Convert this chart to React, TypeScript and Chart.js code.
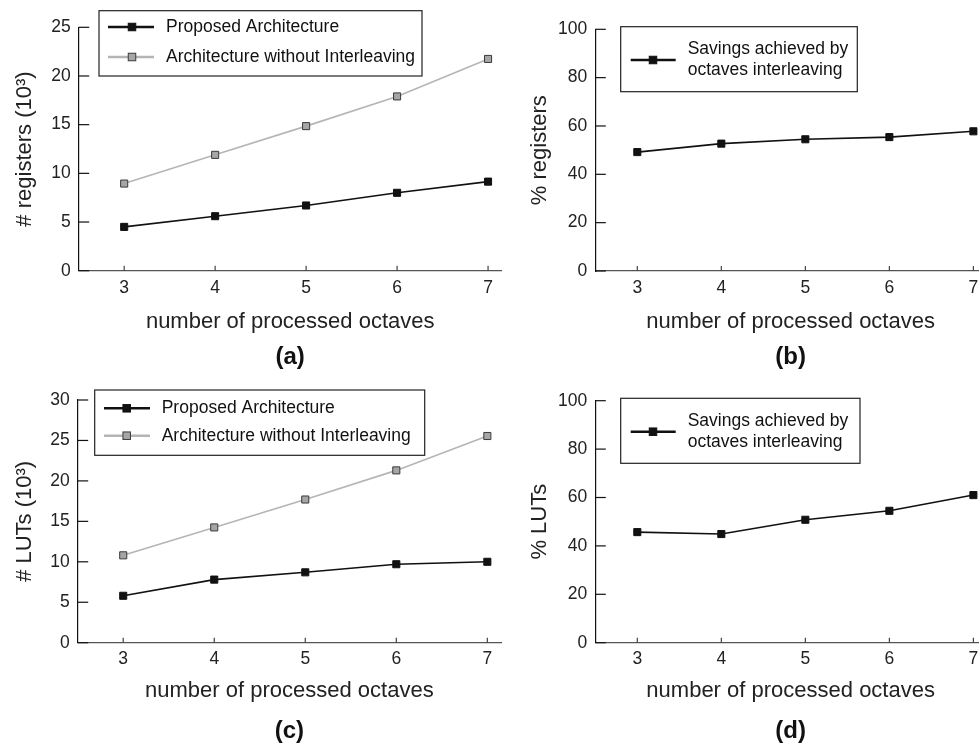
import React, { useEffect, useRef } from "react";
import { Chart, registerables } from "chart.js";

Chart.register(...registerables);

// ---------- data ----------
const octaves = [3, 4, 5, 6, 7];
const regProposed = [4.5, 5.6, 6.7, 8.0, 9.15];
const regNoInterleave = [8.95, 11.9, 14.85, 17.9, 21.75];
const regSavings = [49.2, 52.7, 54.5, 55.4, 57.8];
const lutProposed = [5.8, 7.8, 8.7, 9.7, 10.0];
const lutNoInterleave = [10.8, 14.25, 17.7, 21.3, 25.55];
const lutSavings = [45.7, 44.9, 50.8, 54.5, 61.0];

const xTitle = "number of processed octaves";
const seriesNames = ["Proposed Architecture", "Architecture without Interleaving"];
const savingsName = ["Savings achieved by", "octaves interleaving"];
const panelLabels = ["(a)", "(b)", "(c)", "(d)"];
const yTitles = ["# registers (10\u00B3)", "% registers", "# LUTs (10\u00B3)", "% LUTs"];

const FONT = '"Liberation Sans", Arial, Helvetica, sans-serif';

const toPoints = (ys: number[]) => octaves.map((x, i) => ({ x, y: ys[i] }));

const blackStyle = {
  borderColor: "#111",
  backgroundColor: "#111",
  borderWidth: 1.6,
  pointStyle: "rect",
  pointRadius: 5,
  pointBackgroundColor: "#111",
  pointBorderColor: "#111",
  pointBorderWidth: 1,
};
const grayStyle = {
  borderColor: "#b5b5b5",
  backgroundColor: "#a6a6a6",
  borderWidth: 1.6,
  pointStyle: "rect",
  pointRadius: 5,
  pointBackgroundColor: "#a6a6a6",
  pointBorderColor: "#3a3a3a",
  pointBorderWidth: 1,
};

// ---------- plugins ----------
const inwardTicks = {
  id: "inwardTicks",
  beforeDatasetsDraw(chart: any) {
    const { ctx, chartArea, scales } = chart;
    const xs = scales.x;
    const ys = scales.y;
    ctx.save();
    ctx.lineWidth = 1.2;
    ctx.strokeStyle = "#111";
    ys.ticks.forEach((t: any) => {
      const py = ys.getPixelForValue(t.value);
      ctx.beginPath();
      ctx.moveTo(chartArea.left, py);
      ctx.lineTo(chartArea.left + 10.5, py);
      ctx.stroke();
    });
    ctx.strokeStyle = "#444";
    xs.ticks.forEach((t: any) => {
      const px = xs.getPixelForValue(t.value);
      ctx.beginPath();
      ctx.moveTo(px, chartArea.bottom);
      ctx.lineTo(px, chartArea.bottom - 5);
      ctx.stroke();
    });
    ctx.restore();
  },
};

const boxLegend = {
  id: "boxLegend",
  afterDraw(chart: any, _args: any, opts: any) {
    if (!opts || !opts.rows) return;
    const { ctx, chartArea } = chart;
    const bx = chartArea.left + opts.dx;
    const by = chartArea.top + opts.dy;
    ctx.save();
    ctx.fillStyle = "#fff";
    ctx.fillRect(bx, by, opts.w, opts.h);
    ctx.strokeStyle = "#222";
    ctx.lineWidth = 1.2;
    ctx.strokeRect(bx, by, opts.w, opts.h);
    opts.rows.forEach((row: any) => {
      const ds = chart.data.datasets[row.ds];
      const ry = by + row.y;
      ctx.strokeStyle = ds.borderColor;
      ctx.lineWidth = ds.borderWidth + 0.9;
      ctx.beginPath();
      ctx.moveTo(bx + opts.sx0, ry);
      ctx.lineTo(bx + opts.sx1, ry);
      ctx.stroke();
      const s = 7.5;
      ctx.fillStyle = ds.pointBackgroundColor;
      ctx.fillRect(bx + opts.mx - s / 2, ry - s / 2, s, s);
      ctx.strokeStyle = ds.pointBorderColor;
      ctx.lineWidth = 1;
      ctx.strokeRect(bx + opts.mx - s / 2, ry - s / 2, s, s);
      ctx.fillStyle = "#111";
      ctx.font = `17.5px ${FONT}`;
      ctx.textAlign = "left";
      ctx.textBaseline = "middle";
      const n = row.text.length;
      row.text.forEach((t: string, i: number) => {
        ctx.fillText(t, bx + opts.tx, ry + (i - (n - 1) / 2) * (opts.gap || 0));
      });
    });
    ctx.restore();
  },
};

// ---------- panels ----------
type Panel = {
  left: number;
  top: number;
  width: number;
  height: number;
  padTop: number;
  padRight: number;
  yWidth: number;
  xHeight: number;
  yMax: number;
  yStep: number;
  yTitle: string;
  label: string;
  titlePadBottom: number;
  xTitlePadBottom: number;
  tickPad: number;
  yTitlePad: number;
  datasets: any[];
  legend: any;
};

const panels: Panel[] = [
  {
    left: 0, top: 0, width: 510, height: 378,
    padTop: 27.3, padRight: 8.3, yWidth: 78.7, xHeight: 71.9,
    yMax: 25, yStep: 5, yTitle: yTitles[0], label: panelLabels[0],
    titlePadBottom: 6.6, xTitlePadBottom: 7.4, tickPad: 6.8, yTitlePad: 11.8,
    datasets: [
      { label: seriesNames[0], data: toPoints(regProposed), ...blackStyle },
      { label: seriesNames[1], data: toPoints(regNoInterleave), ...grayStyle },
    ],
    legend: {
      dx: 20.3, dy: -16.6, w: 323, h: 65.3, sx0: 9, sx1: 55, mx: 33, tx: 67, gap: 0,
      rows: [
        { ds: 0, y: 16.3, text: [seriesNames[0]] },
        { ds: 1, y: 46.3, text: [seriesNames[1]] },
      ],
    },
  },
  {
    left: 500, top: 0, width: 500, height: 378,
    padTop: 29.3, padRight: 14, yWidth: 95.3, xHeight: 71.6,
    yMax: 100, yStep: 20, yTitle: yTitles[1], label: panelLabels[1],
    titlePadBottom: 6.6, xTitlePadBottom: 7.4, tickPad: 6.8, yTitlePad: 26.8,
    datasets: [{ label: savingsName.join(" "), data: toPoints(regSavings), ...blackStyle }],
    legend: {
      dx: 25.4, dy: -2.6, w: 236.6, h: 65, sx0: 10, sx1: 55, mx: 32.3, tx: 67, gap: 20.7,
      rows: [{ ds: 0, y: 33.3, text: savingsName }],
    },
  },
  {
    left: 0, top: 380, width: 510, height: 366,
    padTop: 20, padRight: 9, yWidth: 77.7, xHeight: 74.5,
    yMax: 30, yStep: 5, yTitle: yTitles[2], label: panelLabels[2],
    titlePadBottom: 0, xTitlePadBottom: 13, tickPad: 5.8, yTitlePad: 11.8,
    datasets: [
      { label: seriesNames[0], data: toPoints(lutProposed), ...blackStyle },
      { label: seriesNames[1], data: toPoints(lutNoInterleave), ...grayStyle },
    ],
    legend: {
      dx: 17, dy: -10, w: 330, h: 65.3, sx0: 9.3, sx1: 55.3, mx: 32, tx: 67, gap: 0,
      rows: [
        { ds: 0, y: 18.3, text: [seriesNames[0]] },
        { ds: 1, y: 45.7, text: [seriesNames[1]] },
      ],
    },
  },
  {
    left: 500, top: 380, width: 500, height: 366,
    padTop: 20.7, padRight: 14, yWidth: 95.3, xHeight: 74.5,
    yMax: 100, yStep: 20, yTitle: yTitles[3], label: panelLabels[3],
    titlePadBottom: 0, xTitlePadBottom: 13, tickPad: 5.8, yTitlePad: 26.8,
    datasets: [{ label: savingsName.join(" "), data: toPoints(lutSavings), ...blackStyle }],
    legend: {
      dx: 25.4, dy: -2.4, w: 239.3, h: 65, sx0: 10, sx1: 55, mx: 32.3, tx: 67, gap: 21,
      rows: [{ ds: 0, y: 33.4, text: savingsName }],
    },
  },
];

function makeConfig(p: Panel): any {
  return {
    type: "line",
    data: { datasets: p.datasets },
    plugins: [inwardTicks, boxLegend],
    options: {
      animation: false,
      responsive: false,
      devicePixelRatio: 1,
      events: [],
      layout: { padding: { top: p.padTop, right: p.padRight, left: 0, bottom: 0 } },
      elements: { line: { tension: 0 } },
      plugins: {
        legend: { display: false },
        tooltip: { enabled: false },
        title: {
          display: true,
          text: p.label,
          position: "bottom",
          fullSize: false,
          color: "#111",
          font: { family: FONT, size: 24, weight: "bold" },
          padding: { top: 0, bottom: p.titlePadBottom },
        },
        boxLegend: p.legend,
      },
      scales: {
        x: {
          type: "linear",
          min: 2.5,
          max: 7.15,
          afterBuildTicks: (s: any) => {
            s.ticks = octaves.map((v) => ({ value: v }));
          },
          afterFit: (s: any) => {
            s.height = p.xHeight;
          },
          grid: { display: true, drawOnChartArea: false, drawTicks: false },
          border: { display: true, color: "#555", width: 1.2 },
          ticks: {
            padding: p.tickPad,
            autoSkip: false,
            maxRotation: 0,
            color: "#222",
            font: { family: FONT, size: 17.5 },
          },
          title: {
            display: true,
            text: xTitle,
            color: "#222",
            font: { family: FONT, size: 22 },
            padding: { top: 0, bottom: p.xTitlePadBottom },
          },
        },
        y: {
          type: "linear",
          min: 0,
          max: p.yMax,
          afterFit: (s: any) => {
            s.width = p.yWidth;
          },
          grid: { display: true, drawOnChartArea: false, drawTicks: false },
          border: { display: true, color: "#111", width: 1.2 },
          ticks: {
            stepSize: p.yStep,
            padding: 8,
            color: "#222",
            font: { family: FONT, size: 17.5 },
          },
          title: {
            display: true,
            text: p.yTitle,
            color: "#222",
            font: { family: FONT, size: 22 },
            padding: { top: p.yTitlePad, bottom: 0 },
          },
        },
      },
    },
  };
}

function PanelChart({ p }: { p: Panel }) {
  const ref = useRef<HTMLCanvasElement | null>(null);
  useEffect(() => {
    if (!ref.current) return;
    const chart = new Chart(ref.current, makeConfig(p));
    return () => chart.destroy();
  }, [p]);
  return (
    <canvas
      ref={ref}
      width={p.width}
      height={p.height}
      style={{ position: "absolute", left: p.left, top: p.top, width: p.width, height: p.height }}
    />
  );
}

export default function App() {
  return (
    <div
      style={{
        position: "fixed",
        left: 0,
        top: 0,
        width: 979,
        height: 746,
        overflow: "hidden",
        background: "#fff",
      }}
    >
      {panels.map((p, i) => (
        <PanelChart key={i} p={p} />
      ))}
    </div>
  );
}
